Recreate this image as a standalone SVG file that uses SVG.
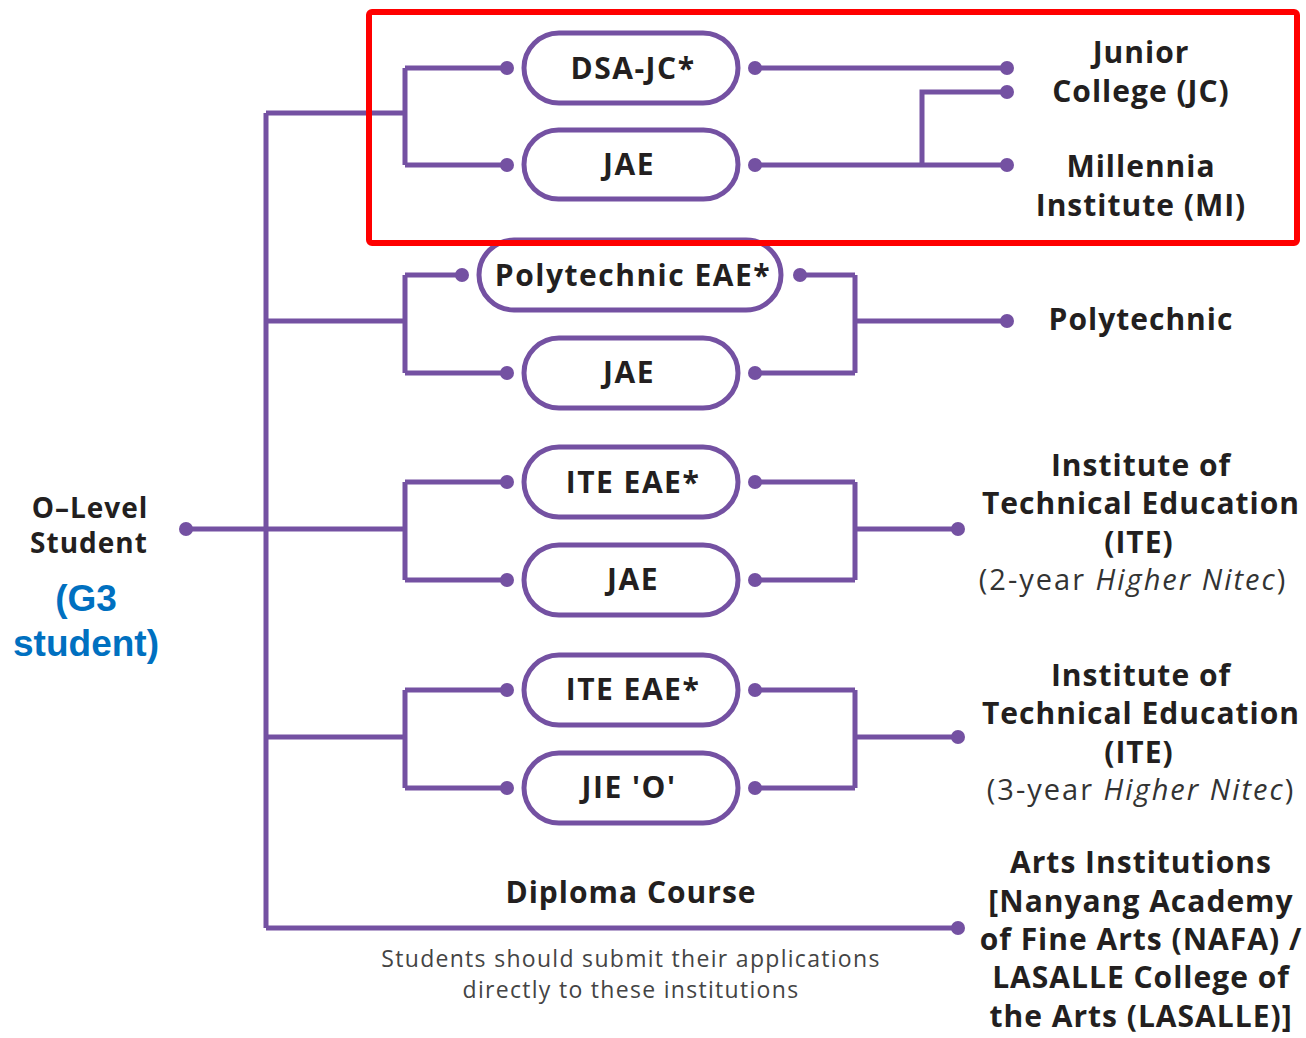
<svg xmlns="http://www.w3.org/2000/svg" width="1306" height="1038" viewBox="0 0 1306 1038">
  <style>
    .ln { fill: none; stroke: #7451a2; stroke-width: 5; stroke-linejoin: miter; }
    .dot { fill: #7451a2; }
    .pill { fill: #ffffff; stroke: #7451a2; stroke-width: 5; }
    .t { font-family: "Open Sans", "Liberation Sans", sans-serif; font-weight: 700; fill: #231f20; text-anchor: middle; letter-spacing: 1px; }
    .box { font-size: 30px; letter-spacing: 1.5px; }
    .lbl { font-size: 30px; }
    .ol { font-size: 28px; }
    .sub { font-family: "Open Sans", "Liberation Sans", sans-serif; font-weight: 400; font-size: 29px; fill: #333333; text-anchor: middle; letter-spacing: 2px; }
    .note { font-family: "Open Sans", "Liberation Sans", sans-serif; font-weight: 400; font-size: 23px; fill: #444444; text-anchor: middle; letter-spacing: 1.3px; }
    .g3 { font-family: "Liberation Sans", Arial, sans-serif; font-weight: 700; font-size: 37px; fill: #0070c0; text-anchor: middle; }
  </style>
  <rect width="1306" height="1038" fill="#ffffff"/>

  <!-- connectors -->
  <g id="connectors">
    <!-- trunk -->
    <path class="ln" d="M266 113 V928"/>
    <!-- JC / MI -->
    <path class="ln" d="M266 113 H405 M405 68 V165 M405 68 H507 M405 165 H507"/>
    <path class="ln" d="M755 68 H1007 M755 165 H1007 M922 165 V92 H1007"/>
    <!-- Polytechnic -->
    <path class="ln" d="M266 321 H405 M405 275 V373 M405 275 H462 M405 373 H507"/>
    <path class="ln" d="M800 275 H855 M755 373 H855 M855 275 V373 M855 321 H1007"/>
    <!-- ITE 2-year -->
    <path class="ln" d="M186 529 H405 M405 482 V580 M405 482 H507 M405 580 H507"/>
    <path class="ln" d="M755 482 H855 M755 580 H855 M855 482 V580 M855 529 H958"/>
    <!-- ITE 3-year -->
    <path class="ln" d="M266 737 H405 M405 690 V788 M405 690 H507 M405 788 H507"/>
    <path class="ln" d="M755 690 H855 M755 788 H855 M855 690 V788 M855 737 H958"/>
    <!-- Diploma course -->
    <path class="ln" d="M266 928 H958"/>

    <g class="dot">
      <circle cx="186" cy="529" r="7"/>
      <circle cx="507" cy="68" r="7"/><circle cx="507" cy="165" r="7"/>
      <circle cx="755" cy="68" r="7"/><circle cx="755" cy="165" r="7"/>
      <circle cx="1007" cy="68" r="7"/><circle cx="1007" cy="92" r="7"/><circle cx="1007" cy="165" r="7"/>
      <circle cx="462" cy="275" r="7"/><circle cx="507" cy="373" r="7"/>
      <circle cx="800" cy="275" r="7"/><circle cx="755" cy="373" r="7"/>
      <circle cx="1007" cy="321" r="7"/>
      <circle cx="507" cy="482" r="7"/><circle cx="507" cy="580" r="7"/>
      <circle cx="755" cy="482" r="7"/><circle cx="755" cy="580" r="7"/>
      <circle cx="958" cy="529" r="7"/>
      <circle cx="507" cy="690" r="7"/><circle cx="507" cy="788" r="7"/>
      <circle cx="755" cy="690" r="7"/><circle cx="755" cy="788" r="7"/>
      <circle cx="958" cy="737" r="7"/>
      <circle cx="958" cy="928" r="7"/>
    </g>
  </g>

  <!-- start node -->
  <g id="o-level">
    <text class="t ol" x="90" y="518">O–Level</text>
    <text class="t ol" x="89" y="553">Student</text>
    <text class="g3" x="86" y="611">(G3</text>
    <text class="g3" x="86" y="656">student)</text>
  </g>

  <!-- application exercises -->
  <g id="dsa-jc">
    <rect class="pill" x="524" y="33" width="214" height="70" rx="35"/>
    <text class="t box" x="633" y="79">DSA-JC*</text>
  </g>
  <g id="jae-jc">
    <rect class="pill" x="524" y="130" width="214" height="69" rx="34.5"/>
    <text class="t box" x="629" y="175">JAE</text>
  </g>
  <g id="poly-eae">
    <rect class="pill" x="479" y="240" width="302" height="70" rx="35"/>
    <text class="t box" x="633" y="286">Polytechnic EAE*</text>
  </g>
  <g id="jae-poly">
    <rect class="pill" x="524" y="338" width="214" height="70" rx="35"/>
    <text class="t box" x="629" y="383">JAE</text>
  </g>
  <g id="ite-eae-2">
    <rect class="pill" x="524" y="447" width="214" height="70" rx="35"/>
    <text class="t box" x="633" y="493">ITE EAE*</text>
  </g>
  <g id="jae-ite">
    <rect class="pill" x="524" y="545" width="214" height="70" rx="35"/>
    <text class="t box" x="633" y="590">JAE</text>
  </g>
  <g id="ite-eae-3">
    <rect class="pill" x="524" y="655" width="214" height="70" rx="35"/>
    <text class="t box" x="633" y="700">ITE EAE*</text>
  </g>
  <g id="jie-o">
    <rect class="pill" x="524" y="753" width="214" height="70" rx="35"/>
    <text class="t box" x="629" y="798">JIE 'O'</text>
  </g>

  <!-- destinations -->
  <g id="jc">
    <text class="t lbl" x="1141" y="63">Junior</text>
    <text class="t lbl" x="1141" y="102">College (JC)</text>
  </g>
  <g id="mi">
    <text class="t lbl" x="1141" y="177">Millennia</text>
    <text class="t lbl" x="1141" y="216">Institute (MI)</text>
  </g>
  <g id="poly">
    <text class="t lbl" x="1141" y="330">Polytechnic</text>
  </g>
  <g id="ite-2">
    <text class="t lbl" x="1141" y="476">Institute of</text>
    <text class="t lbl" x="1141" y="514">Technical Education</text>
    <text class="t lbl" x="1139" y="553">(ITE)</text>
    <text class="sub" x="1133" y="590">(2-year <tspan font-style="italic">Higher Nitec</tspan>)</text>
  </g>
  <g id="ite-3">
    <text class="t lbl" x="1141" y="686">Institute of</text>
    <text class="t lbl" x="1141" y="724">Technical Education</text>
    <text class="t lbl" x="1139" y="763">(ITE)</text>
    <text class="sub" x="1141" y="800">(3-year <tspan font-style="italic">Higher Nitec</tspan>)</text>
  </g>
  <g id="arts">
    <text class="t lbl" x="1141" y="873">Arts Institutions</text>
    <text class="t lbl" x="1141" y="912">[Nanyang Academy</text>
    <text class="t lbl" x="1141" y="950">of Fine Arts (NAFA) /</text>
    <text class="t lbl" x="1141" y="988">LASALLE College of</text>
    <text class="t lbl" x="1141" y="1027">the Arts (LASALLE)]</text>
  </g>

  <!-- diploma course labels -->
  <g id="diploma">
    <text class="t lbl" x="631" y="903">Diploma Course</text>
    <text class="note" x="631" y="967">Students should submit their applications</text>
    <text class="note" x="631" y="998">directly to these institutions</text>
  </g>

  <!-- highlight frame -->
  <rect id="highlight" x="369" y="12" width="928" height="231" rx="3" fill="none" stroke="#ff0000" stroke-width="6"/>
</svg>
